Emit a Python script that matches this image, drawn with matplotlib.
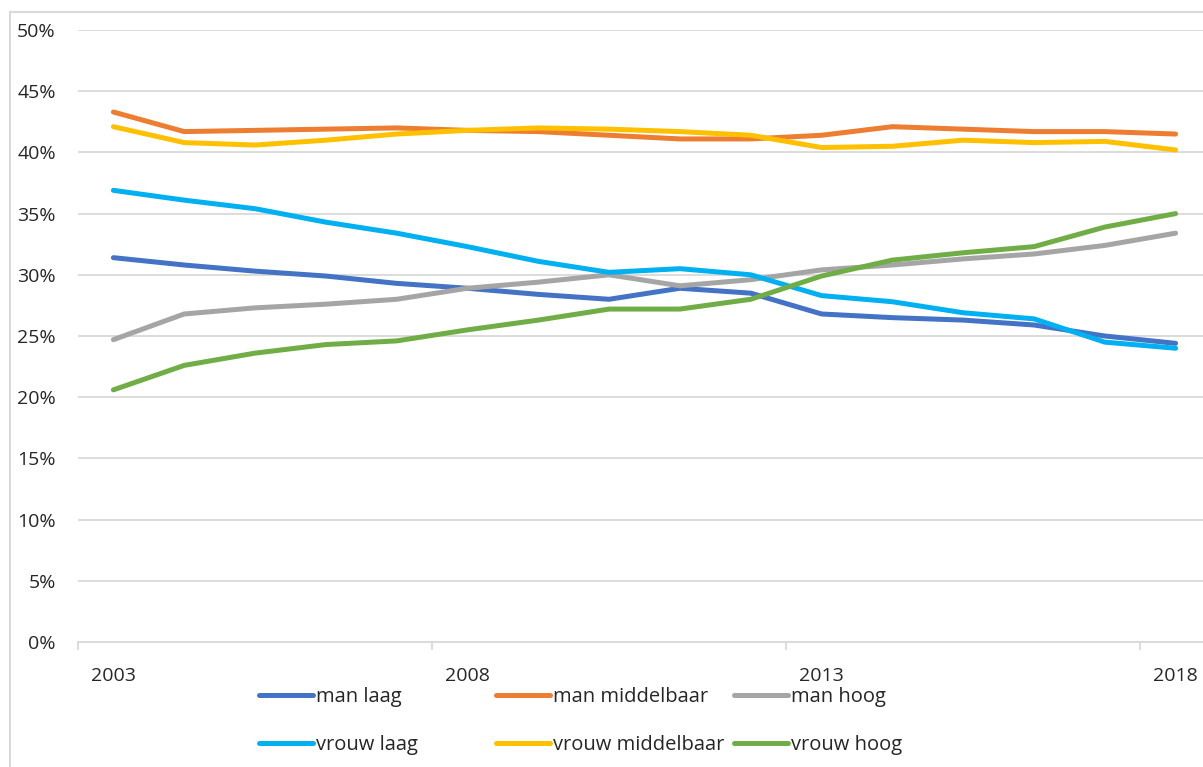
import matplotlib
matplotlib.use("Agg")
import matplotlib.pyplot as plt
from matplotlib.lines import Line2D
from matplotlib.patches import Rectangle
from matplotlib.ticker import FuncFormatter

plt.rcParams['font.family'] = ['Open Sans', 'DejaVu Sans']

years = list(range(2003, 2019))
year_labels = ["2003", "2008", "2013", "2018"]

man_laag = [31.4, 30.8, 30.3, 29.9, 29.3, 28.9, 28.4, 28.0, 28.9, 28.5,
            26.8, 26.5, 26.3, 25.9, 25.0, 24.4]
man_middelbaar = [43.3, 41.7, 41.8, 41.9, 42.0, 41.8, 41.7, 41.4, 41.1, 41.1,
                  41.4, 42.1, 41.9, 41.7, 41.7, 41.5]
man_hoog = [24.7, 26.8, 27.3, 27.6, 28.0, 28.9, 29.4, 30.0, 29.1, 29.6,
            30.4, 30.8, 31.3, 31.7, 32.4, 33.4]
vrouw_laag = [36.9, 36.1, 35.4, 34.3, 33.4, 32.3, 31.1, 30.2, 30.5, 30.0,
              28.3, 27.8, 26.9, 26.4, 24.5, 24.0]
vrouw_middelbaar = [42.1, 40.8, 40.6, 41.0, 41.5, 41.8, 42.0, 41.9, 41.7, 41.4,
                    40.4, 40.5, 41.0, 40.8, 40.9, 40.2]
vrouw_hoog = [20.6, 22.6, 23.6, 24.3, 24.6, 25.5, 26.3, 27.2, 27.2, 28.0,
              29.9, 31.2, 31.8, 32.3, 33.9, 35.0]

series = [
    ("man laag", man_laag, "#4472C4"),
    ("man middelbaar", man_middelbaar, "#ED7D31"),
    ("man hoog", man_hoog, "#A5A5A5"),
    ("vrouw laag", vrouw_laag, "#00B0F0"),
    ("vrouw middelbaar", vrouw_middelbaar, "#FFC000"),
    ("vrouw hoog", vrouw_hoog, "#70AD47"),
]

TEXT = "#262626"
GRID = "#d9d9d9"
W, H = 1203, 767

fig = plt.figure(figsize=(W / 100, H / 100), dpi=100)
ax = fig.add_axes([78 / W, 1 - 642 / H, (1211 - 78) / W, 612 / H])

# outer chart frame
fig.add_artist(Rectangle((10 / W, -0.05), 1.2, 1 - 12 / H + 0.05,
                         transform=fig.transFigure, fill=False,
                         edgecolor=GRID, linewidth=1.5, clip_on=False))

x = list(range(len(years)))
for name, vals, col in series:
    ax.plot(x, vals, color=col, linewidth=3.6, solid_capstyle='round',
            solid_joinstyle='round', label=name, zorder=3)

ax.set_xlim(-0.5, len(years) - 0.5)
ax.set_ylim(0, 50)
ax.set_yticks(range(0, 51, 5))
ax.yaxis.set_major_formatter(FuncFormatter(lambda v, p: f"{int(v)}%"))
ax.grid(axis='y', color=GRID, linewidth=1.3, zorder=0)
ax.set_axisbelow(True)

label_pos = [years.index(int(y)) for y in year_labels]
ax.set_xticks(label_pos)
ax.set_xticklabels(year_labels)
ax.set_xticks([p - 0.5 for p in label_pos], minor=True)
ax.tick_params(axis='x', which='major', length=0, pad=18, labelsize=14, labelcolor=TEXT)
ax.tick_params(axis='x', which='minor', length=6, width=1.3, color=GRID, direction='out')
ax.tick_params(axis='y', length=0, pad=16, labelsize=14, labelcolor=TEXT)

for s in ['left', 'right', 'top']:
    ax.spines[s].set_visible(False)
ax.spines['bottom'].set_color(GRID)
ax.spines['bottom'].set_linewidth(1.3)
ax.spines['bottom'].set_zorder(1)

# legend: three fixed-width columns, two rows
col_x = [259, 496, 734]
for i, cx in enumerate(col_x):
    hs, ls = [], []
    for name, vals, col in (series[i], series[i + 3]):
        hs.append(Line2D([], [], color=col, linewidth=3.6, solid_capstyle='round'))
        ls.append(name)
    fig.legend(hs, ls, loc='upper left', bbox_to_anchor=(cx / W, 1 - 687 / H),
               frameon=False, fontsize=14.5, handlelength=2.7, handletextpad=0.15,
               labelspacing=1.4, borderpad=0, borderaxespad=0, labelcolor=TEXT)

fig.savefig("out.png", dpi=100)
